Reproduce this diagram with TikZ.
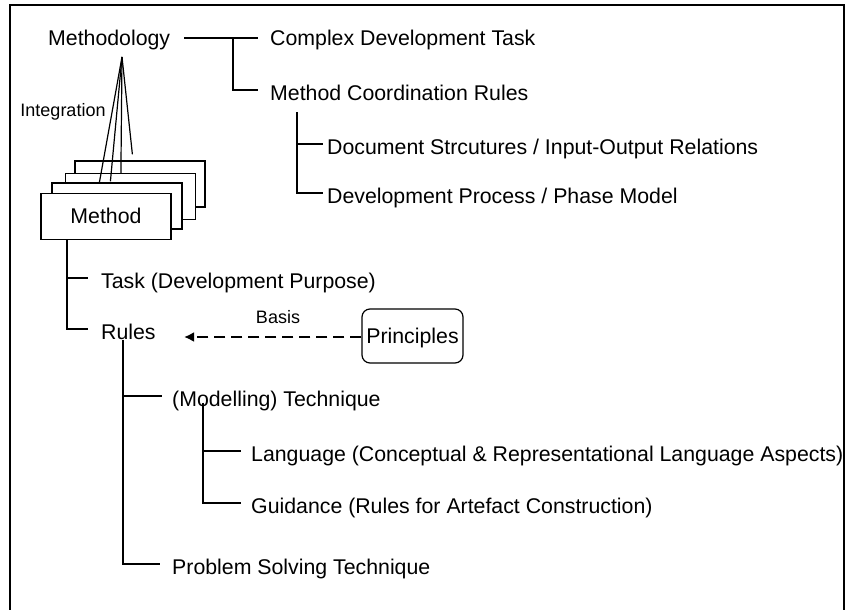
\documentclass[tikz,border=0pt]{standalone}
\usepackage{fontspec}
\setmainfont{Liberation Sans}
\usetikzlibrary{arrows.meta}
\newcommand\mainfs{\fontsize{21.3}{25}\selectfont}
\newcommand\smallfs{\fontsize{18}{22}\selectfont}
\begin{document}
\begin{tikzpicture}[x=1pt,y=-1pt,
  lbl/.style={anchor=west, inner sep=0pt, text height=20.6pt, text depth=0pt, font=\mainfs},
  lblc/.style={anchor=west, inner sep=0pt, text height=14.6pt, text depth=0pt, font=\mainfs},
  tree/.style={line width=1.2pt},
  mbox/.style={draw, fill=white, line width=1.2pt, minimum width=130pt, minimum height=46pt, inner sep=0pt, text height=14.6pt, text depth=0pt, font=\mainfs},
  pbox/.style={draw, rounded corners=8pt, line width=1.2pt, minimum width=101pt, minimum height=54pt, inner sep=0pt, text height=14.6pt, text depth=0pt, font=\mainfs},
  small/.style={inner sep=0pt, font=\smallfs},
  basisarrow/.style={line width=2.6pt, dash pattern=on 11pt off 6pt, -{Latex[length=10pt,width=10pt]}},
  frame/.style={line width=1.4pt}]
\useasboundingbox (0,0) rectangle (846,610);
% frame
\draw[frame] (10,615) -- (10,5) -- (844,5) -- (844,615);

% top tree
\node[lblc] (meth) at (48,38) {Methodology};
\node[lblc] (cdt) at (270,38) {Complex Development Task};
\node[lbl] (mcr) at (270,90) {Method Coordination Rules};
\node[lbl] (doc) at (327,144) {Document Strcutures / Input-Output Relations};
\node[lbl] (dev) at (327,193) {Development Process / Phase Model};
\coordinate (j1) at (233,38);
\coordinate (j2) at (297,112);
\draw[tree] ([xshift=14pt]meth.east) -- ([xshift=-12pt]cdt.west);
\draw[tree] (j1) |- ([xshift=-12pt]mcr.west);
\draw[tree] (j2) |- ([xshift=-4pt]dev.west);
\draw[tree] (j2 |- doc.west) -- ([xshift=-4pt]doc.west);

% method stack
\node[mbox] (mb4) at (140,184) {};
\node[mbox] (mb3) at (130.5,196.5) {};
\node[mbox] (mb2) at (117,206) {};
\node[mbox] (method) at (106,216.5) {Method};
\coordinate (apex) at (122,57);
\draw[tree] (apex) -- ([xshift=48pt]mb2.north west);
\draw[tree] (apex) -- ([xshift=59pt,yshift=1pt]mb2.north west);
\draw[tree] (apex) -- ([xshift=56pt]mb3.north west);
\draw[tree] (apex) -- ([xshift=58pt,yshift=6pt]mb4.north west);
\node[small] (integ) at (63,112) {Integration};

% method tree
\node[lbl] (task) at (101,278) {Task (Development Purpose)};
\node[lbl] (rules) at (101,329) {Rules};
\coordinate (jm) at ([xshift=-39pt]method.south);
\draw[tree] (jm) |- ([xshift=-13pt]rules.west);
\draw[tree] (jm |- task.west) -- ([xshift=-13pt]task.west);

% principles
\node[pbox] (princ) at (412.5,336) {Principles};
\coordinate (btip) at (184,337);
\draw[basisarrow] (princ.west |- btip) -- (btip);
\node[small] (basis) at (278,317) {Basis};

% rules tree
\node[lbl] (mt) at (172,396) {(Modelling) Technique};
\node[lbl] (lang) at (251,451) {Language (Conceptual \& Representational Language Aspects)};
\node[lbl] (guid) at (251,503) {Guidance (Rules for Artefact Construction)};
\node[lbl] (pst) at (172,564) {Problem Solving Technique};
\coordinate (jr) at ([xshift=22pt]rules.south west);
\draw[tree] (jr) |- ([xshift=-12pt]pst.west);
\draw[tree] (jr |- mt.west) -- ([xshift=-10pt]mt.west);
\coordinate (jt) at ([xshift=31pt,yshift=4pt]mt.south west);
\draw[tree] (jt) |- ([xshift=-10pt]guid.west);
\draw[tree] (jt |- lang.west) -- ([xshift=-10pt]lang.west);
\end{tikzpicture}
\end{document}
